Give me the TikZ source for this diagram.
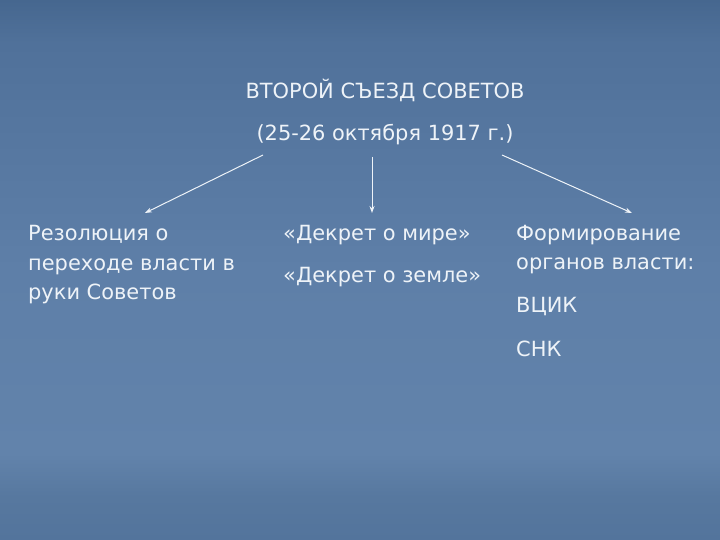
\documentclass[tikz,border=0pt]{standalone}
\usepackage{fontspec}
\setmainfont{DejaVu Sans}
\usetikzlibrary{arrows.meta}
\definecolor{textc}{HTML}{EEF3F8}
\definecolor{bgtop}{HTML}{46678F}
\definecolor{bgupper}{HTML}{50719A}
\definecolor{bgmid}{HTML}{5E7FA8}
\definecolor{bglow}{HTML}{6283AB}
\definecolor{bgband}{HTML}{57789F}
\definecolor{bgbot}{HTML}{53749C}
\pgfdeclareverticalshading{slidebg}{100bp}{
  color(0bp)=(bgbot); color(25bp)=(bgbot); color(29bp)=(bgband);
  color(33bp)=(bglow); color(50bp)=(bgmid);
  color(71bp)=(bgupper); color(75bp)=(bgtop); color(100bp)=(bgtop)}
\begin{document}
\begin{tikzpicture}[x=1bp,y=-1bp,
  txt/.style={text=textc, font=\fontsize{21}{29.5}\selectfont, inner sep=0pt, align=left},
  conn/.style={draw=textc, line width=1bp, -{Stealth[length=7bp,width=5bp]}}]
\useasboundingbox (0,0) rectangle (720,540);
\shade[shading=slidebg] (0,0) rectangle (720,540);

\node[txt, anchor=base] (title) at (385,98.5) {ВТОРОЙ СЪЕЗД СОВЕТОВ};
\node[txt, anchor=base] (date) at (385,141) {(25-26 октября 1917 г.)};

\node[txt, anchor=base west] (res) at (28,299.5) {Резолюция о\\переходе власти в\\руки Советов};
\node[txt, anchor=base west] (mir) at (283,241) {«Декрет о мире»};
\node[txt, anchor=base west] (zem) at (283,283) {«Декрет о земле»};
\node[txt, anchor=base west] (form) at (516,270) {Формирование\\органов власти:};
\node[txt, anchor=base west] (vcik) at (516,312) {ВЦИК};
\node[txt, anchor=base west] (snk) at (516,356) {СНК};

\coordinate (sL) at (263,155);
\coordinate (eL) at (145,213);
\coordinate (sM) at (372,157);
\coordinate (eM) at (372,213);
\coordinate (sR) at (502,155);
\coordinate (eR) at (632,213);
\draw[conn] (sL) -- (eL);
\draw[conn] (sM) -- (eM);
\draw[conn] (sR) -- (eR);
\end{tikzpicture}
\end{document}
